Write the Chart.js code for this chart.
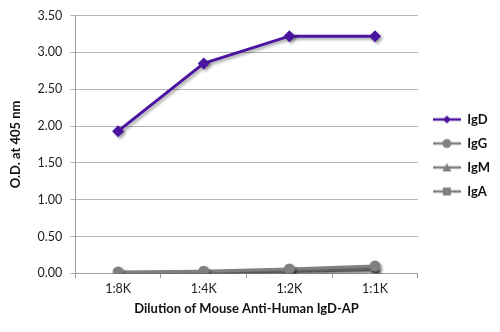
<!DOCTYPE html>
<html>
<head>
<meta charset="utf-8">
<script src="https://cdn.jsdelivr.net/npm/chart.js@4.4.1/dist/chart.umd.min.js"></script>
<style>
  html, body { margin: 0; padding: 0; background: #fff; }
  #wrap { width: 500px; height: 332px; position: relative; }
</style>
</head>
<body>
<div id="wrap"><canvas id="elisaChart"></canvas></div>
<script>
// Dilutions and O.D. readings per isotype
const dilutions = ['1:8K', '1:4K', '1:2K', '1:1K'];
const igdValues = [1.93, 2.85, 3.22, 3.22];
const iggValues = [0.02, 0.03, 0.06, 0.10];
const igmValues = [0.01, 0.02, 0.04, 0.07];
const igaValues = [0.01, 0.02, 0.03, 0.05];
const yTicks = [0, 0.5, 1, 1.5, 2, 2.5, 3, 3.5];

const purple = '#4b14a0';
const gray = '#808080';

// Small line+marker swatch for the legend
function legendSwatch(color, style) {
    const c = document.createElement('canvas');
    c.width = 28; c.height = 12;
    const g = c.getContext('2d');
    g.strokeStyle = color;
    g.fillStyle = color;
    g.lineWidth = 2.5;
    g.beginPath(); g.moveTo(0, 6); g.lineTo(28, 6); g.stroke();
    g.beginPath();
    if (style === 'rectRot') {
        g.moveTo(14, 2); g.lineTo(18, 6); g.lineTo(14, 10); g.lineTo(10, 6);
    } else if (style === 'circle') {
        g.arc(14, 6, 4.5, 0, Math.PI * 2);
    } else if (style === 'triangle') {
        g.moveTo(14, 1.5); g.lineTo(18.5, 10); g.lineTo(9.5, 10);
    } else {
        g.rect(10, 2, 8, 8);
    }
    g.closePath(); g.fill();
    return c;
}

function series(label, data, color, style, radius) {
    return {
        label: label,
        data: data,
        borderColor: color,
        backgroundColor: color,
        borderWidth: 3,
        pointStyle: style,
        pointRadius: radius,
        pointBorderWidth: 0,
        pointBackgroundColor: color,
        tension: 0,
        legendImage: legendSwatch(color, style)
    };
}

// Soft drop shadow under the lines
const shadowPlugin = {
    id: 'lineShadow',
    beforeDatasetsDraw(chart) {
        const ctx = chart.ctx;
        ctx.save();
        ctx.shadowColor = 'rgba(0,0,0,0.35)';
        ctx.shadowBlur = 3;
        ctx.shadowOffsetX = 2;
        ctx.shadowOffsetY = 2;
    },
    afterDatasetsDraw(chart) {
        chart.ctx.restore();
    }
};

// Nudge the legend block a little up and right
const legendNudge = {
    id: 'legendNudge',
    afterLayout(chart) {
        const lg = chart.legend;
        if (!lg) return;
        lg.top -= 9; lg.bottom -= 9;
        lg.left += 4; lg.right += 4;
    }
};

const ctx = document.getElementById('elisaChart').getContext('2d');
new Chart(ctx, {
    type: 'line',
    data: {
        labels: dilutions,
        datasets: [
            series('IgD', igdValues, purple, 'rectRot', 6),
            series('IgG', iggValues, gray, 'circle', 5.5),
            series('IgM', igmValues, gray, 'triangle', 5.5),
            series('IgA', igaValues, gray, 'rect', 5)
        ]
    },
    plugins: [shadowPlugin, legendNudge],
    options: {
        responsive: true,
        maintainAspectRatio: false,
        animation: false,
        layout: { padding: { top: 8, right: 4, left: 4, bottom: 11 } },
        plugins: {
            tooltip: { enabled: false },
            legend: {
                position: 'right',
                labels: {
                    usePointStyle: true,
                    pointStyleWidth: 28,
                    padding: 11,
                    color: '#111',
                    font: { family: 'Lato', size: 13, weight: 'bold' },
                    generateLabels(chart) {
                        return chart.data.datasets.map((ds, i) => ({
                            text: ds.label,
                            pointStyle: ds.legendImage,
                            fillStyle: ds.borderColor,
                            strokeStyle: ds.borderColor,
                            lineWidth: 0,
                            hidden: false,
                            datasetIndex: i,
                            fontColor: '#111'
                        }));
                    }
                }
            }
        },
        scales: {
            x: {
                offset: true,
                ticks: {
                    color: '#222',
                    font: { family: 'Lato', size: 12.5 },
                    padding: 3
                },
                grid: {
                    offset: true,
                    drawOnChartArea: false,
                    drawTicks: true,
                    tickLength: 5,
                    color: '#a0a0a0'
                },
                border: { color: '#a0a0a0', width: 1 },
                title: {
                    display: true,
                    text: 'Dilution of Mouse Anti-Human IgD-AP',
                    color: '#111',
                    font: { family: 'Lato', size: 13, weight: 'bold' },
                    padding: { top: 2 }
                }
            },
            y: {
                min: 0,
                max: 3.5,
                afterBuildTicks(axis) {
                    axis.ticks = yTicks.map(v => ({ value: v }));
                },
                ticks: {
                    color: '#222',
                    font: { family: 'Lato', size: 12.5 },
                    padding: 8,
                    callback: v => Number(v).toFixed(2)
                },
                grid: {
                    color: '#b4b4b4',
                    drawTicks: true,
                    tickLength: 5
                },
                border: { color: '#a0a0a0', width: 1 },
                title: {
                    display: true,
                    text: 'O.D. at 405 nm',
                    color: '#111',
                    font: { family: 'Lato', size: 13, weight: 'bold' },
                    padding: { bottom: 6 }
                }
            }
        }
    }
});
</script>
</body>
</html>
